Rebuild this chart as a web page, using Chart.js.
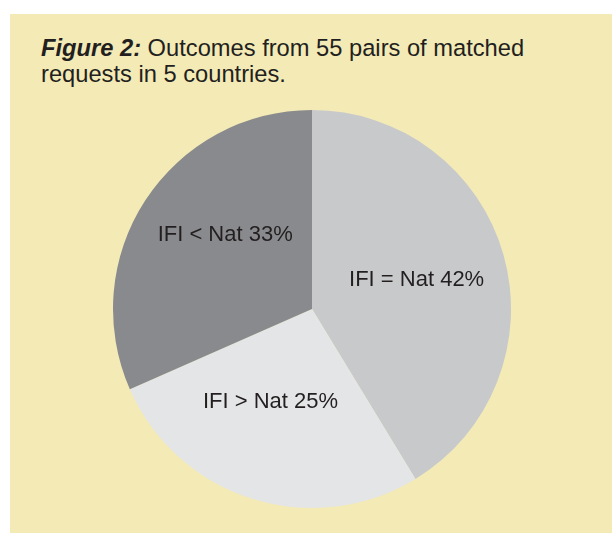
<!DOCTYPE html>
<html>
<head>
<meta charset="utf-8">
<script src="https://cdn.jsdelivr.net/npm/chart.js@4/dist/chart.umd.min.js"></script>
<style>
  body { margin: 0; background: #ffffff; width: 612px; height: 533px; overflow: hidden; }
  #panel { position: absolute; left: 10px; top: 14px; width: 602px; height: 519px; background: #f3eab6; }
  #caption { position: absolute; left: 41px; top: 35px; font-family: "Liberation Sans", Arial, sans-serif;
    font-size: 23.7px; line-height: 26px; color: #231f20; white-space: nowrap; }
  #caption b { font-style: italic; }
  #wrap { position: absolute; left: 111px; top: 108px; width: 402px; height: 402px; }
</style>
</head>
<body>
<div id="panel"></div>
<div id="caption"><b>Figure 2:</b> Outcomes from 55 pairs of matched<br>requests in 5 countries.</div>
<div id="wrap"><canvas id="pieOutcomes"></canvas></div>
<script>
// slices as drawn in the figure, clockwise from 12 o'clock
var outcomeLabels = ["IFI = Nat 42%", "IFI > Nat 25%", "IFI < Nat 33%"];
var outcomeShares = [41.3, 27.1, 31.6];
var sliceColours = ["#c8c9cb", "#e4e5e6", "#898a8d"];

// draws the label text inside each slice
var sliceText = {
    id: 'sliceText',
    afterDatasetsDraw: function(chart, args, opts) {
        var ctx = chart.ctx;
        var arcs = chart.getDatasetMeta(0).data;
        ctx.save();
        ctx.font = opts.font;
        ctx.fillStyle = opts.color;
        ctx.textAlign = 'center';
        ctx.textBaseline = 'middle';
        arcs.forEach(function(arc, i) {
            var mid = (arc.startAngle + arc.endAngle) / 2 + opts.shift[i] * Math.PI / 180;
            var r = arc.outerRadius * opts.radius[i];
            ctx.fillText(chart.data.labels[i], arc.x + Math.cos(mid) * r, arc.y + Math.sin(mid) * r);
        });
        ctx.restore();
    }
};

var chrt = document.getElementById("pieOutcomes").getContext("2d");
var pieOutcomes = new Chart(chrt, {
    type: 'pie',
    data: {
        labels: outcomeLabels,
        datasets: [{
            data: outcomeShares,
            backgroundColor: sliceColours,
            borderWidth: 0
        }]
    },
    options: {
        responsive: true,
        maintainAspectRatio: false,
        animation: false,
        layout: { padding: 2 },
        plugins: {
            legend: { display: false },
            tooltip: { enabled: false },
            sliceText: {
                font: '22px "Liberation Sans", Arial, sans-serif',
                color: '#231f20',
                shift: [0, 6.6, 7.3],
                radius: [0.546, 0.511, 0.573]
            }
        }
    },
    plugins: [sliceText]
});
</script>
</body>
</html>
